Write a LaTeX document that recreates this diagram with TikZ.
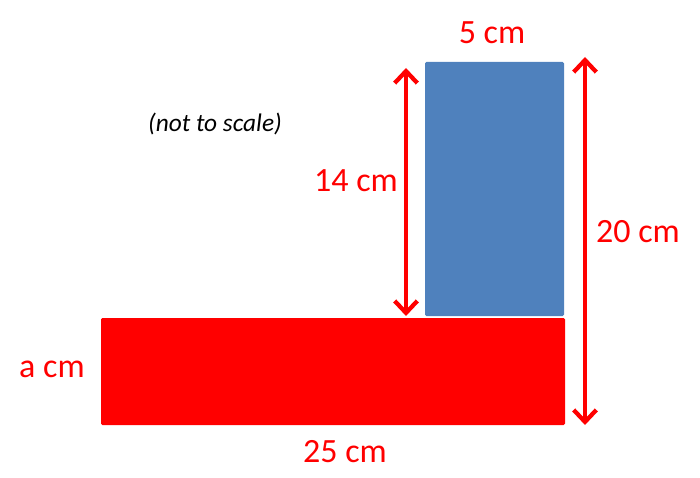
\documentclass[tikz,border=0pt]{standalone}
\usepackage{fontspec}
\setmainfont{Carlito}
\usetikzlibrary{arrows.meta}
\definecolor{dimred}{HTML}{FF0000}
\definecolor{blockblue}{HTML}{4F81BD}
\begin{document}
\begin{tikzpicture}[x=0.75pt,y=-0.75pt,
  dimarrow/.style={draw=dimred,line width=3.2pt,{Straight Barb[length=9pt,width=17pt,line width=3.2pt]}-{Straight Barb[length=9pt,width=17pt,line width=3.2pt]}},
  dimlabel/.style={text=dimred,font=\fontsize{25.5}{30}\selectfont,inner sep=0pt},
  block/.style={draw=none,rounded corners=1pt}]
\useasboundingbox (0,0) rectangle (700,478);
\fill[block,blockblue] (425,62) rectangle (564,316);
\fill[block,dimred] (101,318) rectangle (565,425);
\coordinate (a1) at (406,68);
\coordinate (a2) at (406,316);
\coordinate (b1) at (585,57);
\coordinate (b2) at (585,425);
\draw[dimarrow] (a1) -- (a2);
\draw[dimarrow] (b1) -- (b2);
\node[dimlabel] (l5) at (492,33) {5 cm};
\node[dimlabel] (l14) at (356,181) {14 cm};
\node[dimlabel] (l20) at (638,232) {20 cm};
\node[dimlabel] (la) at (52,369) {a cm};
\node[dimlabel] (l25) at (345,452) {25 cm};
\node[inner sep=0pt,font=\fontsize{19}{23}\selectfont\itshape] (ns) at (215,124) {(not to scale)};
\end{tikzpicture}
\end{document}
